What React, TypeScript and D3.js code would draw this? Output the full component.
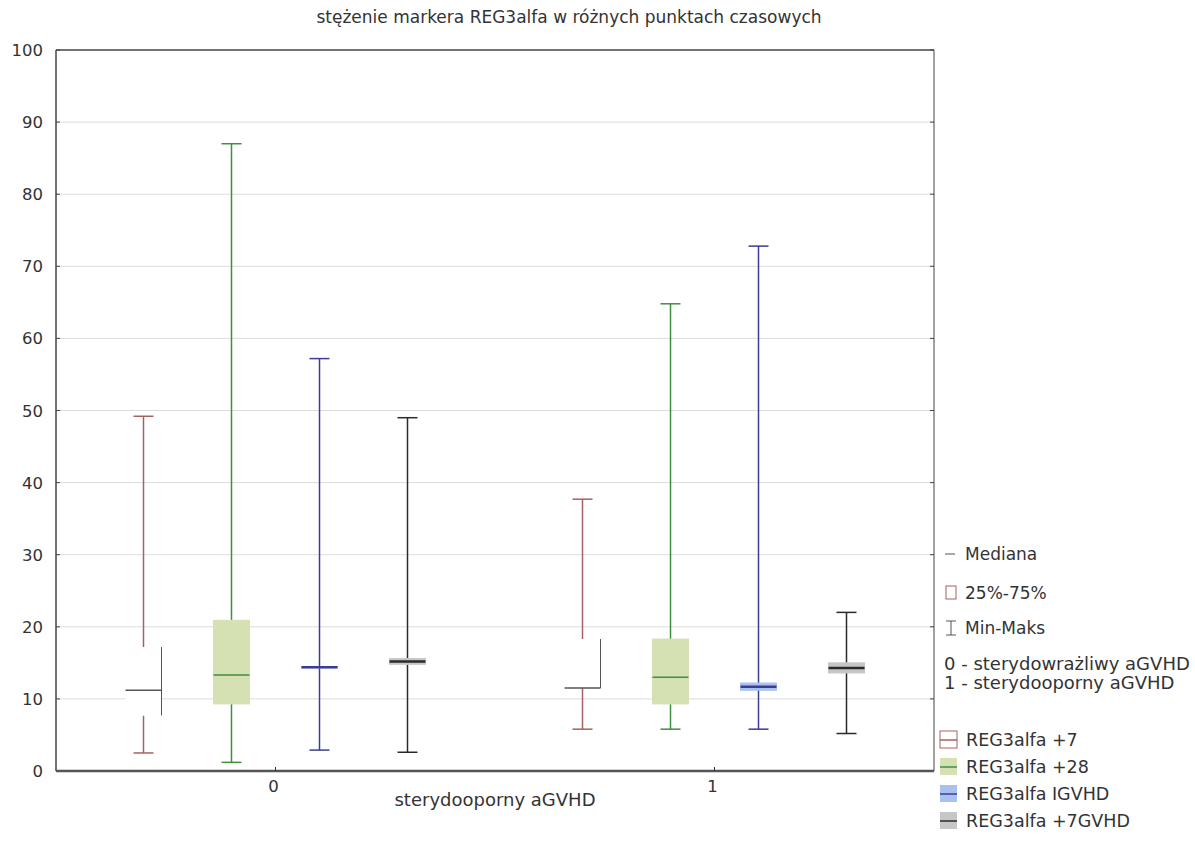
import React from 'react';
import * as d3 from 'd3';

const groups = ['0', '1'];
const series = ['REG3alfa +7', 'REG3alfa +28', 'REG3alfa IGVHD', 'REG3alfa +7GVHD'];
const yTicks = [0, 10, 20, 30, 40, 50, 60, 70, 80, 90, 100];

// [group][series] values
const minVals = [[2.5, 1.2, 2.9, 2.6], [5.8, 5.8, 5.8, 5.2]];
const q1Vals = [[7.7, 9.3, 14.3, 14.8], [11.5, 9.3, 11.2, 13.6]];
const medVals = [[11.2, 13.3, 14.4, 15.2], [11.5, 13.0, 11.7, 14.3]];
const q3Vals = [[17.2, 20.9, 14.5, 15.6], [18.3, 18.3, 12.2, 15.0]];
const maxVals = [[49.2, 87.0, 57.2, 49.0], [37.7, 64.8, 72.8, 22.0]];

const lineColors = ['#a86060', '#3f8f3f', '#3c3c96', '#2a2a2a'];
const fillColors = ['#ffffff', '#d5e1b3', '#a9c1ef', '#c6c6c6'];

const W = 1195;
const H = 843;
const margin = { top: 50, right: 261, bottom: 72, left: 56 };
const font = '"DejaVu Sans", Verdana, sans-serif';

export default function App() {
  const x = d3.scaleBand().domain(groups).range([margin.left, W - margin.right]);
  const inner = d3.scaleBand().domain(series).range([-176, 176]);
  const y = d3.scaleLinear().domain([0, 100]).range([H - margin.bottom, margin.top]);
  const boxW = 36;
  const capW = 20;

  const legendTop = [
    { y: 560, label: 'Mediana' },
    { y: 599, label: '25%-75%' },
    { y: 634, label: 'Min-Maks' },
  ];

  return (
    <svg width={W} height={H} style={{ position: 'absolute', left: 0, top: 0 }} fontFamily={font}>
      <rect width={W} height={H} fill="#fff" />
      <text x={569} y={23} textAnchor="middle" fontSize={17} fill="#333">
        stężenie markera REG3alfa w różnych punktach czasowych
      </text>
      {yTicks.map(t => (
        <g key={t}>
          {t > 0 && t < 100 && (
            <line x1={margin.left} x2={W - margin.right} y1={y(t)} y2={y(t)} stroke="#dcdcdc" strokeWidth={1} />
          )}
          <line x1={margin.left} x2={margin.left + 4} y1={y(t)} y2={y(t)} stroke="#444" />
          <line x1={W - margin.right - 4} x2={W - margin.right} y1={y(t)} y2={y(t)} stroke="#444" />
          <text x={43} y={y(t) + 6} textAnchor="end" fontSize={16.5} fill="#333">{t}</text>
        </g>
      ))}
      <line x1={margin.left} x2={margin.left} y1={y(100)} y2={y(0)} stroke="#444" strokeWidth={1.5} />
      <line x1={W - margin.right} x2={W - margin.right} y1={y(100)} y2={y(0)} stroke="#444" strokeWidth={1} />
      <line x1={margin.left} x2={W - margin.right} y1={y(100)} y2={y(100)} stroke="#444" strokeWidth={1.5} />
      <line x1={margin.left} x2={W - margin.right} y1={y(0)} y2={y(0)} stroke="#555" strokeWidth={2.5} />
      {groups.map((g, gi) => {
        const cx0 = (x(g) as number) + x.bandwidth() / 2;
        return (
          <g key={g}>
            <line x1={cx0} x2={cx0} y1={y(0) - 4} y2={y(0)} stroke="#333" />
            <text x={cx0 - 2} y={y(0) + 21} textAnchor="middle" fontSize={16.5} fill="#333">{g}</text>
            {series.map((s, si) => {
              const cx = cx0 + (inner(s) as number) + inner.bandwidth() / 2;
              const c = lineColors[si];
              const q1 = q1Vals[gi][si];
              const q3 = q3Vals[gi][si];
              const isWhite = si === 0;
              return (
                <g key={s}>
                  <line x1={cx} x2={cx} y1={y(maxVals[gi][si])} y2={y(q3)} stroke={c} strokeWidth={1.5} />
                  <line x1={cx} x2={cx} y1={y(q1)} y2={y(minVals[gi][si])} stroke={c} strokeWidth={1.5} />
                  <line x1={cx - capW / 2} x2={cx + capW / 2} y1={y(maxVals[gi][si])} y2={y(maxVals[gi][si])} stroke={c} strokeWidth={1.5} />
                  <line x1={cx - capW / 2} x2={cx + capW / 2} y1={y(minVals[gi][si])} y2={y(minVals[gi][si])} stroke={c} strokeWidth={1.5} />
                  <rect
                    x={cx - boxW / 2}
                    y={y(q3)}
                    width={boxW}
                    height={Math.max(y(q1) - y(q3), 1)}
                    fill={fillColors[si]}
                    stroke={isWhite ? 'none' : fillColors[si]}
                  />
                  {isWhite && (
                    <line x1={cx + boxW / 2} x2={cx + boxW / 2} y1={y(q3)} y2={y(q1)} stroke="#555" strokeWidth={1} />
                  )}
                  <line
                    x1={cx - boxW / 2}
                    x2={cx + boxW / 2}
                    y1={y(medVals[gi][si])}
                    y2={y(medVals[gi][si])}
                    stroke={isWhite ? '#555' : c}
                    strokeWidth={si >= 2 ? 2.5 : 1.5}
                  />
                </g>
              );
            })}
          </g>
        );
      })}
      <text x={495} y={806} textAnchor="middle" fontSize={18} fill="#333">sterydooporny aGVHD</text>

      {/* legend */}
      <line x1={945} x2={955} y1={legendTop[0].y - 6} y2={legendTop[0].y - 6} stroke="#555" />
      <rect x={946} y={legendTop[1].y - 13} width={10} height={13} fill="none" stroke="#a86060" />
      <g stroke="#555">
        <line x1={951} x2={951} y1={legendTop[2].y - 13} y2={legendTop[2].y + 1} />
        <line x1={946} x2={956} y1={legendTop[2].y - 13} y2={legendTop[2].y - 13} />
        <line x1={946} x2={956} y1={legendTop[2].y + 1} y2={legendTop[2].y + 1} />
      </g>
      {legendTop.map(l => (
        <text key={l.label} x={965} y={l.y} fontSize={17} fill="#333">{l.label}</text>
      ))}
      <text x={944} y={670} fontSize={18} fill="#333">0 - sterydowrażliwy aGVHD</text>
      <text x={944} y={689} fontSize={18} fill="#333">1 - sterydooporny aGVHD</text>
      {series.map((s, si) => {
        const ly = 740 + si * 27;
        return (
          <g key={s}>
            <rect x={940} y={ly - 9} width={17} height={17} fill={fillColors[si]} stroke={si === 0 ? '#a86060' : 'none'} strokeWidth={1} />
            <line x1={940} x2={957} y1={ly} y2={ly} stroke={si === 0 ? '#a86060' : lineColors[si]} strokeWidth={1.5} />
            <text x={966} y={ly + 6} fontSize={17.5} fill="#333">{s}</text>
          </g>
        );
      })}
    </svg>
  );
}
